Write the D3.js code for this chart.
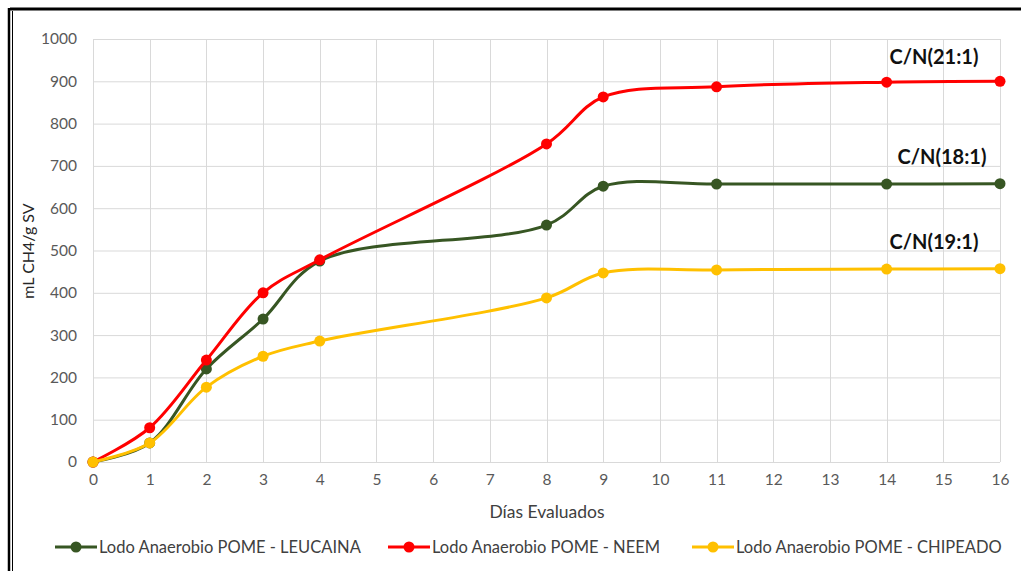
<!DOCTYPE html>
<html>
<head>
<meta charset="utf-8">
<script src="https://cdn.jsdelivr.net/npm/d3@7"></script>
<style>
  body { margin: 0; background: #fff; }
  svg { display: block; font-family: Lato, "Open Sans", sans-serif; }
</style>
</head>
<body>
<svg id="chart" width="1021" height="571"></svg>
<script>
// days on the x axis
const days = [0, 1, 2, 3, 4, 8, 9, 11, 14, 16];

// mL CH4 / g SV
const leucaina = [0, 45, 220, 338, 475, 560, 652, 657, 657, 658];
const neem     = [0, 81, 241, 400, 478, 752, 863, 887, 898, 900];
const chipeado = [0, 45, 177, 250, 286, 388, 447, 454, 456, 457];

const seriesNames  = ["Lodo Anaerobio POME - LEUCAINA", "Lodo Anaerobio POME - NEEM", "Lodo Anaerobio POME - CHIPEADO"];
const seriesColors = ["#375623", "#ff0000", "#ffc000"];
const seriesValues = [leucaina, neem, chipeado];

const xTicks = d3.range(0, 17);
const yTicks = d3.range(0, 1001, 100);

// C/N labels, attached to each series
const cnLabels = ["C/N(18:1)", "C/N(21:1)", "C/N(19:1)"];

const svg = d3.select("#chart");

const margin = { left: 93, right: 21, top: 39, bottom: 109 };
const width = 1021, height = 571;

const x = d3.scaleLinear().domain([0, 16]).range([margin.left, width - margin.right]);
const y = d3.scaleLinear().domain([0, 1000]).range([height - margin.bottom, margin.top]);

// outer frame
svg.append("line").attr("x1", 10).attr("x2", 1021).attr("y1", 9).attr("y2", 9)
  .attr("stroke", "#000").attr("stroke-width", 3);
svg.append("line").attr("x1", 9).attr("x2", 9).attr("y1", 8).attr("y2", 571)
  .attr("stroke", "#000").attr("stroke-width", 2.5);
svg.append("line").attr("x1", 12.5).attr("x2", 12.5).attr("y1", 11).attr("y2", 571)
  .attr("stroke", "#000").attr("stroke-width", 1);

// grid
const grid = svg.append("g");
grid.selectAll(".gy").data(yTicks).enter().append("line")
  .attr("x1", x(0)).attr("x2", x(16))
  .attr("y1", d => y(d) + 0.5).attr("y2", d => y(d) + 0.5)
  .attr("stroke", "#d9d9d9").attr("stroke-width", 1);
grid.selectAll(".gx").data(xTicks).enter().append("line")
  .attr("x1", d => Math.round(x(d)) + 0.5).attr("x2", d => Math.round(x(d)) + 0.5)
  .attr("y1", y(1000)).attr("y2", y(0))
  .attr("stroke", "#d9d9d9").attr("stroke-width", 1);

// axes (labels only)
const yAxis = svg.append("g")
  .attr("transform", `translate(${x(0)},0)`)
  .call(d3.axisLeft(y).tickValues(yTicks).tickFormat(d3.format("d")).tickSize(0).tickPadding(16));
yAxis.select(".domain").remove();
yAxis.selectAll("text").attr("font-size", 15.5).attr("fill", "#595959")
  .attr("font-family", "Lato, 'Open Sans', sans-serif");

const xAxis = svg.append("g")
  .attr("transform", `translate(0,${y(0)})`)
  .call(d3.axisBottom(x).tickValues(xTicks).tickSize(0).tickPadding(12));
xAxis.select(".domain").remove();
xAxis.selectAll("text").attr("font-size", 15.5).attr("fill", "#595959")
  .attr("font-family", "Lato, 'Open Sans', sans-serif");

// axis titles
svg.append("text")
  .attr("transform", "translate(34,251) rotate(-90)")
  .attr("text-anchor", "middle")
  .attr("font-size", 16).attr("fill", "#262626")
  .text("mL CH4/g SV");

svg.append("text")
  .attr("x", 547).attr("y", 518)
  .attr("text-anchor", "middle")
  .attr("font-size", 17.5).attr("fill", "#404040")
  .text("Días Evaluados");

// lines
const line = d3.line()
  .x(d => x(d[0]))
  .y(d => y(d[1]))
  .curve(d3.curveCatmullRom.alpha(0.5));

seriesValues.forEach((vals, i) => {
  const pts = days.map((d, j) => [d, vals[j]]);
  const g = svg.append("g");
  g.append("path").datum(pts)
    .attr("d", line)
    .attr("fill", "none")
    .attr("stroke", seriesColors[i])
    .attr("stroke-width", 3)
    .attr("stroke-linejoin", "round");
  g.selectAll("circle").data(pts).enter().append("circle")
    .attr("cx", d => x(d[0]))
    .attr("cy", d => y(d[1]))
    .attr("r", 5.5)
    .attr("fill", seriesColors[i]);
});

// C/N annotations
const cnOffsets = [[-58, -20], [-66, -17], [-66, -20]];
cnLabels.forEach((t, i) => {
  const vals = seriesValues[i];
  svg.append("text")
    .attr("x", x(16) + cnOffsets[i][0])
    .attr("y", y(vals[vals.length - 1]) + cnOffsets[i][1])
    .attr("text-anchor", "middle")
    .attr("font-size", 20).attr("font-weight", "bold").attr("fill", "#111")
    .text(t);
});

// legend
const legendX = [55, 388, 692];
const legend = svg.append("g");
seriesNames.forEach((n, i) => {
  const lg = legend.append("g").attr("transform", `translate(${legendX[i]},547)`);
  lg.append("line").attr("x1", 0).attr("x2", 42).attr("y1", 0).attr("y2", 0)
    .attr("stroke", seriesColors[i]).attr("stroke-width", 3);
  lg.append("circle").attr("cx", 21).attr("cy", 0).attr("r", 5.5).attr("fill", seriesColors[i]);
  lg.append("text").attr("x", 44).attr("y", 6)
    .attr("font-size", 16.5).attr("fill", "#404040")
    .text(n);
});
</script>
</body>
</html>
